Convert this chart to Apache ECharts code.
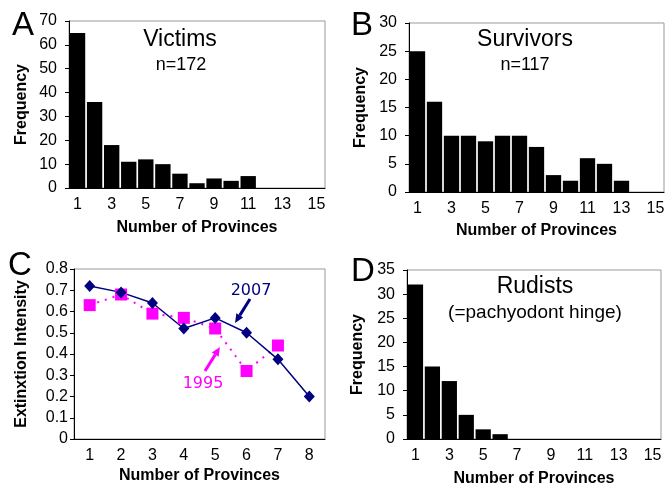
<!DOCTYPE html>
<html>
<head>
<meta charset="utf-8">
<script src="https://cdn.jsdelivr.net/npm/echarts@6/dist/echarts.min.js"></script>
<style>
  html, body { margin: 0; padding: 0; background: #fff; }
  #chart { width: 666px; height: 483px; }
</style>
</head>
<body>
<div id="chart"></div>
<script>
// 数据
var provinces15 = ['1','2','3','4','5','6','7','8','9','10','11','12','13','14','15'];
var provinces8 = ['1','2','3','4','5','6','7','8'];
var victims = [65, 36, 18, 11, 12, 10, 6, 2, 4, 3, 5, 0, 0, 0, 0];
var survivors = [25, 16, 10, 10, 9, 10, 10, 8, 3, 2, 6, 5, 2, 0, 0];
var rudists = [32, 15, 12, 5, 2, 1, 0, 0, 0, 0, 0, 0, 0, 0, 0];
var intensity2007 = [0.72, 0.69, 0.64, 0.52, 0.57, 0.50, 0.375, 0.20];
var intensity1995 = [0.63, 0.68, 0.59, 0.57, 0.52, 0.32, 0.44];

(function () {
  var myChart = echarts.init(document.getElementById('chart'));
  var font = 'Liberation Sans, Arial, sans-serif';

  // 公共坐标轴样式
  function xAxisOf(idx, data, labelInterval, gap) {
    return {
      type: 'category',
      gridIndex: idx,
      data: data,
      name: 'Number of Provinces',
      nameLocation: 'middle',
      nameGap: gap,
      nameTextStyle: { fontFamily: font, fontSize: 16, fontWeight: 'bold', color: '#000' },
      axisLine: { lineStyle: { color: '#000', width: 1 } },
      axisTick: { interval: 0, length: 5, lineStyle: { color: '#000' } },
      axisLabel: { interval: labelInterval, fontFamily: font, fontSize: 16, color: '#000', margin: 9 },
      splitLine: { show: false }
    };
  }
  function yAxisOf(idx, max, step, name, gap, margin, fmt) {
    return {
      type: 'value',
      gridIndex: idx,
      min: 0,
      max: max,
      interval: step,
      name: name,
      nameLocation: 'middle',
      nameGap: gap,
      nameTextStyle: { fontFamily: font, fontSize: 16, fontWeight: 'bold', color: '#000' },
      axisLine: { show: true, lineStyle: { color: '#000', width: 1 } },
      axisTick: { show: true, length: 4, lineStyle: { color: '#000' } },
      axisLabel: { fontFamily: font, fontSize: 16, color: '#000', margin: margin, formatter: fmt },
      splitLine: { show: false }
    };
  }

  function barSeries(idx, data) {
    return {
      type: 'bar',
      xAxisIndex: idx,
      yAxisIndex: idx,
      data: data,
      barCategoryGap: '10%',
      itemStyle: { color: '#000' },
      silent: true
    };
  }

  // 箭头
  function arrow(x1, y1, x2, y2, color) {
    var ang = Math.atan2(y2 - y1, x2 - x1);
    var len = 9, half = 4;
    var bx = x2 - len * Math.cos(ang), by = y2 - len * Math.sin(ang);
    var px = -Math.sin(ang) * half, py = Math.cos(ang) * half;
    return [
      { type: 'line', shape: { x1: x1, y1: y1, x2: bx, y2: by }, style: { stroke: color, lineWidth: 3 } },
      { type: 'polygon', shape: { points: [[x2, y2], [bx + px, by + py], [bx - px, by - py]] }, style: { fill: color } }
    ];
  }

  function text(x, y, str, size, color, family) {
    return {
      type: 'text', x: x, y: y,
      style: {
        text: str, fill: color || '#000',
        font: size + 'px ' + (family || font),
        align: 'center', verticalAlign: 'middle',
        textAlign: 'center', textVerticalAlign: 'middle'
      }
    };
  }

  var graphics = [
    text(23, 26, 'A', 33),
    text(362, 26, 'B', 33),
    text(20, 266, 'C', 33),
    text(363, 272, 'D', 33),
    text(180, 40, 'Victims', 23),
    text(181, 65, 'n=172', 18),
    text(525, 40, 'Survivors', 23),
    text(525, 65, 'n=117', 18),
    text(535, 287, 'Rudists', 23),
    text(535, 313, '(=pachyodont hinge)', 19),
    text(251, 291, '2007', 16, '#000080', 'DejaVu Sans, Verdana, sans-serif'),
    text(203, 384, '1995', 16, '#ff00ff', 'DejaVu Sans, Verdana, sans-serif')
  ].concat(arrow(250, 299, 235, 323, '#000080'))
   .concat(arrow(205, 371, 220, 347, '#ff00ff'));

  var gridBase = { show: true, borderColor: '#999', borderWidth: 1, outerBoundsMode: 'none', containLabel: false };

  var option = {
    animation: false,
    grid: [
      Object.assign({ left: 69, top: 21, width: 256, height: 167 }, gridBase),
      Object.assign({ left: 409, top: 23, width: 255, height: 169 }, gridBase),
      Object.assign({ left: 74, top: 269, width: 251, height: 170 }, gridBase),
      Object.assign({ left: 407, top: 270, width: 254, height: 169 }, gridBase)
    ],
    xAxis: [
      xAxisOf(0, provinces15, 1, 32),
      xAxisOf(1, provinces15, 1, 31),
      xAxisOf(2, provinces8, 0, 29),
      xAxisOf(3, provinces15, 1, 32)
    ],
    yAxis: [
      yAxisOf(0, 70, 10, 'Frequency', 39, 12),
      yAxisOf(1, 30, 5, 'Frequency', 40, 12),
      yAxisOf(2, 0.8, 0.1, 'Extinxtion Intensity', 44, 6, function (v) { return v === 0 ? '0' : v.toFixed(1); }),
      yAxisOf(3, 35, 5, 'Frequency', 41, 12)
    ],
    series: [
      barSeries(0, victims),
      barSeries(1, survivors),
      {
        name: '1995',
        type: 'line',
        xAxisIndex: 2,
        yAxisIndex: 2,
        data: intensity1995,
        symbol: 'rect',
        symbolSize: 12,
        lineStyle: { color: '#ff00ff', width: 2, type: [2, 6] },
        itemStyle: { color: '#ff00ff' },
        silent: true
      },
      {
        name: '2007',
        type: 'line',
        xAxisIndex: 2,
        yAxisIndex: 2,
        data: intensity2007,
        symbol: 'diamond',
        symbolSize: [11, 12],
        lineStyle: { color: '#000080', width: 1.5 },
        itemStyle: { color: '#000080' },
        silent: true
      },
      barSeries(3, rudists)
    ],
    graphic: graphics
  };

  myChart.setOption(option);
  window.addEventListener('resize', () => myChart.resize());
})();
</script>
</body>
</html>
